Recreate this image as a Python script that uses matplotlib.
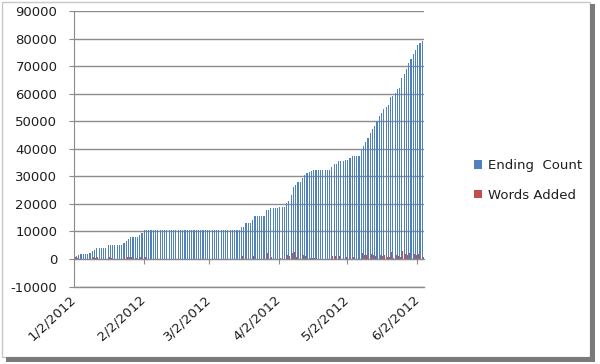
import matplotlib
matplotlib.use("Agg")
import matplotlib.pyplot as plt
from matplotlib.patches import Rectangle, Patch
import numpy as np

# ---- data ----
month_ticks = [0, 31, 60, 91, 121, 152]   # day offsets from 1/2/2012
tick_labels = ["1/2/2012", "2/2/2012", "3/2/2012", "4/2/2012", "5/2/2012", "6/2/2012"]

ending_count = (
    [800, 1200, 1300, 1900, 1900, 1950, 1950, 2300, 2900, 3300,
     3900, 4000, 4000, 4100, 4100, 4900, 5100, 5100, 5100, 5100,
     5100, 5200, 5900, 6500, 7100, 7800, 7800, 8100, 8100, 8800,
     9600, 10400]
    + [10400] * 42
    + [11600, 11600, 13000, 13000, 13000, 14200,
       15600, 15600, 15600, 15600, 15600, 17800, 17800,
       18400, 18400, 18400, 18400, 18900, 18900, 18900]
    + [20300, 21200, 23300, 26000, 26700, 27900, 27900, 29300, 30500, 31100,
       31500, 32000]
    + [32300] * 8
    + [33500, 34500, 34500, 35400, 35400, 35400, 36000, 36000, 36600,
       37400, 37400, 37400, 37400]
    + [39600, 41000, 42500, 44000, 45800, 47300, 48400, 50200, 51800, 53000,
       54300, 55100, 55900, 58900, 59100, 60400, 61600, 62200, 65500, 67300,
       68900, 71100, 72600, 74400, 76000, 77700, 78400, 79000]
)

words_added = (
    [800, 400, 100, 600, 0, 50, 0, 350, 600, 400,
     600, 100, 0, 100, 0, 800, 200, 0, 0, 0,
     0, 100, 700, 600, 600, 700, 0, 300, 0, 700,
     800, 800]
    + [0] * 42
    + [1200, 0, 1400, 0, 0, 1200, 1400, 0, 0, 0,
       0, 2200, 0, 600, 0, 0, 0, 500, 0, 0]
    + [1400, 900, 2100, 2700, 700, 1200, 0, 1400, 1200, 600,
       400, 500]
    + [300, 0, 0, 0, 0, 0, 0, 0]
    + [1200, 1000, 0, 900, 0, 0, 600, 0, 600, 800, 0, 0, 0]
    + [2200, 1400, 1500, 1500, 1800, 1500, 1100, 1800, 1600, 1200,
       1300, 800, 800, 2700, 200, 1300, 1200, 600, 2800, 1800,
       1600, 2200, 1500, 1800, 1600, 1700, 700, 600]
)

series_names = ["Ending  Count", "Words Added"]
colors = ["#4F81BD", "#C0504D"]

# ---- figure ----
W, H = 600, 364
fig = plt.figure(figsize=(W / 100, H / 100), dpi=100)
plt.rcParams['font.family'] = ['DejaVu Sans']
FS = 9.5
TXT = "#1E1E1E"

ax = fig.add_axes([73.5 / W, 1 - 286.5 / H, (423.8 - 73.5) / W, (286.5 - 11) / H])

n = len(ending_count)
x = np.arange(n)
ax.bar(x + 0.32, ending_count, width=0.5, color=colors[0], linewidth=0)
ax.bar(x + 0.75, words_added, width=0.38, color=colors[1], linewidth=0)

ax.set_xlim(0, n)
ax.set_ylim(-10000, 90000)
ax.set_yticks(np.arange(-10000, 90001, 10000))
ax.set_yticklabels([f"{v}" for v in range(-10000, 90001, 10000)])

grid_c = "#8C8C8C"
ax.yaxis.grid(True, color=grid_c, linewidth=1.0)
ax.axhline(-10000, color=grid_c, linewidth=1.0, clip_on=False, zorder=0.5)
ax.set_axisbelow(True)

for s in ["top", "right"]:
    ax.spines[s].set_visible(False)
ax.spines["left"].set_color(grid_c)
ax.spines["bottom"].set_color(grid_c)
ax.spines["bottom"].set_position(("data", 0))
ax.spines["bottom"].set_zorder(3)

ax.set_xticks(month_ticks)
ax.set_xticklabels(tick_labels, rotation=43, ha="right", va="center",
                   rotation_mode="anchor")
ax.tick_params(axis="x", direction="out", length=3.6, color=grid_c, pad=24,
               labelsize=FS, labelcolor=TXT)
ax.tick_params(axis="y", direction="out", length=3.6, color=grid_c, pad=8,
               labelsize=FS, labelcolor=TXT)

handles = [Patch(facecolor=colors[0], edgecolor="none"),
           Patch(facecolor=colors[1], edgecolor="none")]
fig.legend(handles, series_names, loc="upper left",
           bbox_to_anchor=(469 / W, 1 - 154 / H), frameon=False,
           fontsize=FS, handlelength=0.6, handleheight=0.6,
           handletextpad=0.45, labelspacing=1.25, borderaxespad=0,
           labelcolor=TXT)

# outer frame with shadow
fig.add_artist(Rectangle((2 / W, 1 - 357 / H), 588 / W, 355 / H,
                         transform=fig.transFigure, fill=False,
                         edgecolor="#C8C8C8", linewidth=1))
fig.add_artist(Rectangle((590 / W, 1 - 360 / H), 5 / W, 356 / H,
                         transform=fig.transFigure, facecolor="#7A7A7A",
                         edgecolor="none"))
fig.add_artist(Rectangle((6 / W, 1 - 362 / H), 589 / W, 5 / H,
                         transform=fig.transFigure, facecolor="#7A7A7A",
                         edgecolor="none"))

fig.savefig("out.png", dpi=100)
